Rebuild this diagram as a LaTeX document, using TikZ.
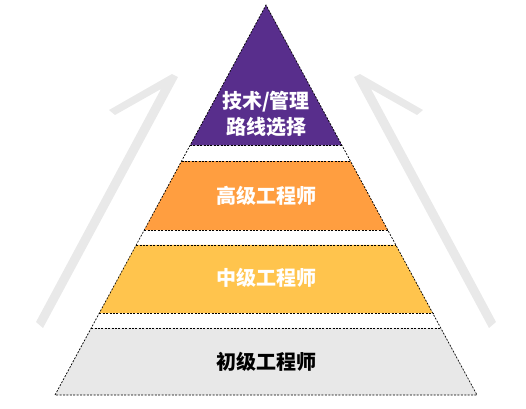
\documentclass[tikz,border=0pt]{standalone}
\usepackage{fontspec}
\newfontfamily\cjk{Noto Sans CJK SC}
\usetikzlibrary{calc}
\definecolor{pyrpurple}{RGB}{88,46,140}
\definecolor{pyrorange}{RGB}{255,158,64}
\definecolor{pyryellow}{RGB}{255,196,77}
\definecolor{pyrgray}{RGB}{232,232,232}
\definecolor{arrowgray}{RGB}{233,233,233}
\begin{document}
\begin{tikzpicture}[x=1pt,y=-1pt,line cap=butt,
  dashline/.style={draw=black,dash pattern=on 2pt off 1.4pt,line width=.7pt},
  lbl/.style={font=\cjk\bfseries\fontsize{20}{26}\selectfont,white,align=center}]
 \useasboundingbox (0,0) rectangle (526,408);
 % rising arrows on both sides
 \begin{scope}[shift={(266,0)}]
  \foreach \s in {1,-1}
   \fill[arrowgray,xscale=\s] (-94,74)--(-88,77)--(-223,328)--(-230,322)
     --(-105,89)--(-151,115)--(-157,110)--cycle;
 \end{scope}
 % pyramid
 \coordinate (apex) at (266,5);
 \coordinate (bl) at (55,395);
 \coordinate (br) at (477,395);
 \fill[pyrpurple] (apex)--($(apex)!.36!(bl)$)--($(apex)!.36!(br)$)--cycle;
 \fill[pyrorange] ($(apex)!.4!(bl)$)--($(apex)!.577!(bl)$)
   --($(apex)!.577!(br)$)--($(apex)!.4!(br)$)--cycle;
 \fill[pyryellow] ($(apex)!.615!(bl)$)--($(apex)!.79!(bl)$)
   --($(apex)!.79!(br)$)--($(apex)!.615!(br)$)--cycle;
 \fill[pyrgray] ($(apex)!.828!(bl)$)--(bl)--(br)--($(apex)!.828!(br)$)--cycle;
 \draw[dashline] (bl)--(apex)--(br)--cycle;
 \foreach \t in {.36,.4,.577,.615,.79,.828}
   \draw[dashline] ($(apex)!\t!(bl)$)--($(apex)!\t!(br)$);
 % labels
 \node[lbl] (top) at (266,114) {技术/管理\\路线选择};
 \node[lbl] (senior) at (266,196) {高级工程师};
 \node[lbl] (middle) at (266,278) {中级工程师};
 \node[lbl,black] (junior) at (266,362) {初级工程师};
\end{tikzpicture}
\end{document}
